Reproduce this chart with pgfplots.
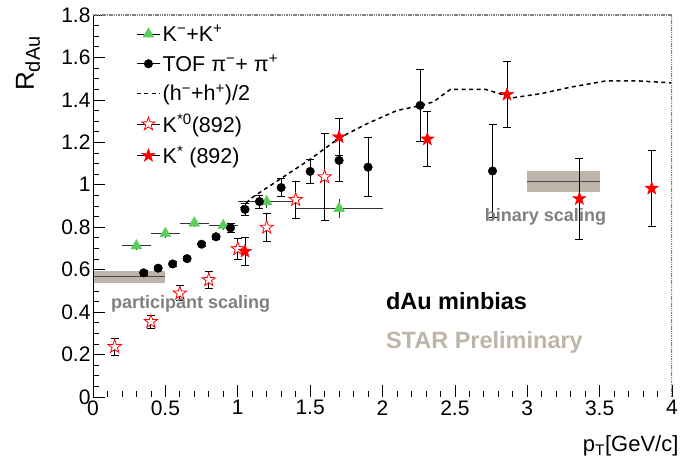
\documentclass[border=0pt]{standalone}
\usepackage{pgfplots}
\pgfplotsset{compat=1.18}
\usepackage{pgfplotstable}
\usepackage{fontspec}
\setmainfont{Liberation Sans}
\usetikzlibrary{calc}

\definecolor{kgreen}{RGB}{90,205,90}
\definecolor{bandcol}{RGB}{190,180,170}
\definecolor{starcol}{RGB}{190,180,168}
\definecolor{labgray}{RGB}{128,128,128}

% five pointed star, filled or open through fill colour
\pgfdeclareplotmark{fivestar}{%
  \pgfpathmoveto{\pgfpointpolar{90}{\pgfplotmarksize}}%
  \pgfpathlineto{\pgfpointpolar{126}{0.4\pgfplotmarksize}}%
  \pgfpathlineto{\pgfpointpolar{162}{\pgfplotmarksize}}%
  \pgfpathlineto{\pgfpointpolar{198}{0.4\pgfplotmarksize}}%
  \pgfpathlineto{\pgfpointpolar{234}{\pgfplotmarksize}}%
  \pgfpathlineto{\pgfpointpolar{270}{0.4\pgfplotmarksize}}%
  \pgfpathlineto{\pgfpointpolar{306}{\pgfplotmarksize}}%
  \pgfpathlineto{\pgfpointpolar{342}{0.4\pgfplotmarksize}}%
  \pgfpathlineto{\pgfpointpolar{18}{\pgfplotmarksize}}%
  \pgfpathlineto{\pgfpointpolar{54}{0.4\pgfplotmarksize}}%
  \pgfpathclose
  \pgfusepathqfillstroke}

\pgfplotsset{
  markleg/.style={legend image code/.code={%
    \draw[black, line width=0.8pt] (0pt,0pt) -- (23pt,0pt);
    \draw[##1] plot coordinates {(11.5pt,0pt)};}},
  dashleg/.style={legend image code/.code={%
    \draw[##1] (0pt,0pt) -- (23pt,0pt);}},
}

% K- + K+  (x y ex ey)
\pgfplotstableread{
x    y     ex   ey
0.3  0.712 0.1  0.02
0.5  0.770 0.1  0.02
0.7  0.820 0.1  0.02
0.9  0.808 0.1  0.02
1.2  0.920 0.2  0.03
1.7  0.888 0.3  0.045
}\kaons

% TOF pi- + pi+
\pgfplotstableread{
x     y     ey
0.35  0.585 0.01
0.45  0.607 0.01
0.55  0.627 0.01
0.65  0.652 0.01
0.75  0.720 0.01
0.85  0.755 0.012
0.95  0.797 0.02
1.05  0.884 0.027
1.15  0.921 0.03
1.3   0.987 0.043
1.5   1.063 0.057
1.7   1.115 0.10
1.9   1.083 0.14
2.26  1.374 0.17
2.76  1.065 0.22
}\pions

% (h- + h+)/2
\pgfplotstableread{
x     y
1.02  0.89
1.1   0.94
1.3   1.03
1.5   1.12
1.7   1.22
1.9   1.29
2.0   1.32
2.1   1.35
2.24  1.37
2.35  1.39
2.47  1.45
2.71  1.45
2.90  1.41
3.1   1.43
3.3   1.46
3.55  1.49
3.75  1.49
4.0   1.48
}\hadrons

% K*0(892)
\pgfplotstableread{
x     y     ey
0.15  0.237 0.04
0.40  0.355 0.03
0.60  0.489 0.035
0.80  0.552 0.04
1.00  0.698 0.05
1.20  0.799 0.067
1.40  0.930 0.088
1.60  1.037 0.205
}\kstarzero

% K*(892)
\pgfplotstableread{
x     y     ey
1.05  0.686 0.068
1.70  1.225 0.087
2.31  1.215 0.13
2.86  1.425 0.155
3.36  0.934 0.19
3.86  0.983 0.18
}\kstar

\begin{document}
\begin{tikzpicture}
\begin{axis}[
  scale only axis,
  width=579pt, height=382pt,
  xmin=0, xmax=4, ymin=0, ymax=1.8,
  xtick={0,0.5,...,4}, minor x tick num=4,
  ytick={0,0.2,...,1.8}, minor y tick num=3,
  tick align=inside, tick pos=left,
  major tick length=12pt, minor tick length=6pt,
  tick style={black, line width=0.7pt},
  axis line style={draw=none},
  /pgf/number format/assume math mode=true,
  tick label style={font=\fontsize{21}{21}\selectfont},
  yticklabel style={xshift=1pt},
  legend style={at={(rel axis cs:0,1)}, anchor=north west, xshift=40pt, yshift=-6pt,
    draw=none, fill=none, font=\fontsize{21.5}{22}\selectfont, row sep=8pt,
    cells={anchor=west}},
  every axis x label/.style={at={(rel axis cs:1,0)}, anchor=base east, xshift=10pt, yshift=-55pt},
  xlabel={p\textsubscript{T}[GeV/c]},
  label style={font=\fontsize{22}{22}\selectfont},
]
% scaling bands
\addplot[fill=bandcol, draw=none, forget plot] coordinates {(0,0.539) (0.5,0.539) (0.5,0.596) (0,0.596)} -- cycle;
\addplot[black!70, line width=1pt, forget plot] coordinates {(0,0.567) (0.5,0.567)};
\addplot[fill=bandcol, draw=none, forget plot] coordinates {(3,0.964) (3.5,0.964) (3.5,1.066) (3,1.066)} -- cycle;
\addplot[black!70, line width=1pt, forget plot] coordinates {(3,1.015) (3.5,1.015)};

\addplot[markleg, only marks, mark=triangle*, mark size=6.3pt, mark options={kgreen, fill=kgreen},
  error bars/.cd, x dir=both, x explicit, y dir=both, y explicit, error mark=none,
  error bar style={black!80, line width=0.8pt}]
  table[x=x, y=y, x error=ex, y error=ey] {\kaons};
\addlegendentry{K\textsuperscript{−}+K\textsuperscript{+}}

\addplot[markleg, only marks, mark=*, mark size=4.3pt, mark options={black, fill=black},
  error bars/.cd, y dir=both, y explicit,
  error mark options={rotate=90, mark size=4pt, line width=0.8pt, black},
  error bar style={black, line width=0.8pt}]
  table[x=x, y=y, y error=ey] {\pions};
\addlegendentry{TOF π\textsuperscript{−}+ π\textsuperscript{+}}

\addplot[dashleg, black, line width=1.5pt, dash pattern=on 4pt off 3.5pt]
  table[x=x, y=y] {\hadrons};
\addlegendentry{(h\textsuperscript{−}+h\textsuperscript{+})/2}

\addplot[markleg, only marks, mark=fivestar, mark size=7pt, mark options={red, fill=white, line width=0.8pt},
  error bars/.cd, y dir=both, y explicit,
  error mark options={rotate=90, mark size=4pt, line width=0.8pt, black},
  error bar style={black, line width=0.8pt}]
  table[x=x, y=y, y error=ey] {\kstarzero};
\addlegendentry{K\textsuperscript{*0}(892)}

\addplot[markleg, only marks, mark=fivestar, mark size=7pt, mark options={red, fill=red},
  error bars/.cd, y dir=both, y explicit,
  error mark options={rotate=90, mark size=4pt, line width=0.8pt, black},
  error bar style={black, line width=0.8pt}]
  table[x=x, y=y, y error=ey] {\kstar};
\addlegendentry{K\textsuperscript{*} (892)}

\node[anchor=west, text=labgray, font=\bfseries\fontsize{18}{18}\selectfont] at (axis cs:0.10,0.44) {participant scaling};
\node[text=labgray, font=\bfseries\fontsize{18}{18}\selectfont] at (axis cs:3.126,0.85) {binary scaling};
\node[anchor=west, font=\bfseries\fontsize{23.5}{24}\selectfont] at (axis cs:2.0,0.45) {dAu minbias};
\node[anchor=west, text=starcol, font=\bfseries\fontsize{23.5}{24}\selectfont] at (axis cs:2.0,0.255) {STAR Preliminary};

% frame: solid left/bottom, dotted grey top/right
\draw[black, line width=0.9pt] (rel axis cs:0,1) -- (rel axis cs:0,0) -- (rel axis cs:1,0);
\draw[gray, line width=1.3pt, dash pattern=on 1.5pt off 0.8pt] (rel axis cs:0,1) -- (rel axis cs:1,1) -- (rel axis cs:1,0);
\end{axis}
\node[rotate=90, anchor=east, font=\fontsize{26}{26}\selectfont] at (-65pt,364pt) {R{\fontsize{20}{20}\selectfont\raisebox{-6pt}{dAu}}};
\pgfresetboundingbox
\path[use as bounding box] (-93pt,-68pt) rectangle (598pt,397pt);
\end{tikzpicture}
\end{document}
